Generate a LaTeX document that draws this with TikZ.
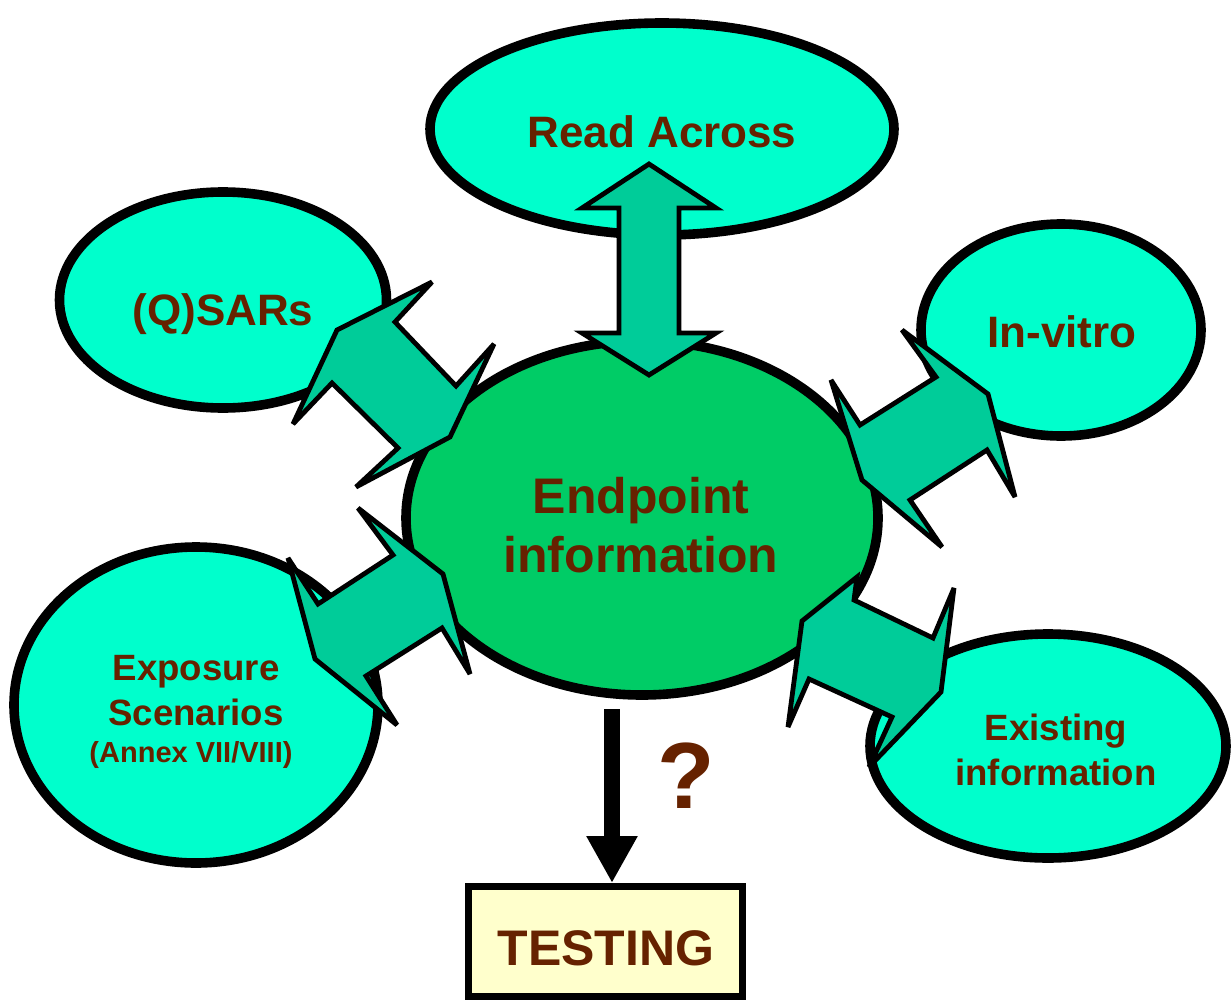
\documentclass[tikz,border=0pt]{standalone}
\usepackage{fontspec}
\setmainfont{Liberation Sans}
\usetikzlibrary{shapes.geometric,arrows.meta}
\definecolor{aqua}{HTML}{00FFCC}
\definecolor{midgreen}{HTML}{00CC66}
\definecolor{arrowteal}{HTML}{00CC99}
\definecolor{txtbrown}{HTML}{662200}
\definecolor{boxyellow}{HTML}{FFFFCC}
\begin{document}
\begin{tikzpicture}[x=0.5pt,y=-0.5pt,
  blob/.style={ellipse, draw=black, line width=4.8pt, fill=aqua, inner sep=0pt},
  fatarrow/.style={draw=black, line width=2.4pt, fill=arrowteal, line join=miter, miter limit=5},
  lbl/.style={text=txtbrown, anchor=base, inner sep=0pt},
  fs/.style={font=\bfseries\fontsize{#1}{#1}\selectfont}]
\useasboundingbox (0,0) rectangle (1231,1001);
% ellipses
\node[blob, minimum width=232pt, minimum height=106pt] (readacross) at (662,129) {};
\node[blob, minimum width=163.5pt, minimum height=108pt] (qsar) at (223,300) {};
\node[blob, minimum width=140pt, minimum height=106pt] (invitro) at (1061,330) {};
\node[blob, minimum width=182pt, minimum height=158pt] (exposure) at (196,705) {};
\node[blob, minimum width=178pt, minimum height=112pt] (existing) at (1048,746) {};
\node[blob, fill=midgreen, minimum width=236pt, minimum height=177pt] (endpoint) at (642,518) {};
% fat double arrows
\draw[fatarrow] (649,164) -- (716,208) -- (679,208) -- (679,333) -- (716,333) -- (649,375)
  -- (582,333) -- (619,333) -- (619,208) -- (582,208) -- cycle;
\draw[fatarrow] (432,282) -- (395,322) -- (456,386) -- (494,344) -- (450,437) -- (356,487)
  -- (398,448) -- (332,383) -- (293,424) -- (337,330) -- cycle;
\draw[fatarrow] (902,330) -- (936,377) -- (860,425) -- (831,380) -- (862,480) -- (942,547)
  -- (910,500) -- (987,450) -- (1015,497) -- (988,394) -- cycle;
\draw[fatarrow] (358,508) -- (393,555) -- (318,604) -- (288,558) -- (315,659) -- (397,725)
  -- (366,676) -- (442,628) -- (470,674) -- (443,574) -- cycle;
\draw[fatarrow] (954,588) -- (933,638) -- (854,600) -- (857,577) -- (802,621) -- (788,727)
  -- (809,679) -- (892,717) -- (869,767) -- (941,692) -- cycle;
% connector to testing
\node[draw=black, line width=3.5pt, fill=boxyellow, minimum width=137pt, minimum height=55pt, inner sep=0pt] (testing) at (605.5,941.5) {};
\coordinate (qstart) at (612,709);
\draw[line width=8pt, -{Triangle[length=23.5pt,width=24pt]}] (qstart) -- (qstart |- testing.north);
% labels
\node[lbl, fs=22] (t-readacross) at (662,147) {Read Across};
\node[lbl, fs=22] (t-qsar) at (223,325) {(Q)SARs};
\node[lbl, fs=22] (t-invitro) at (1062,347) {In-vitro};
\node[lbl, fs=25] (t-endpoint1) at (641,513) {Endpoint};
\node[lbl, fs=25] (t-endpoint2) at (641,572) {information};
\node[lbl, fs=18.3] (t-existing1) at (1056,740) {Existing};
\node[lbl, fs=18.3] (t-existing2) at (1056,785) {information};
\node[lbl, fs=18.3] (t-exposure1) at (196,680) {Exposure};
\node[lbl, fs=18.3] (t-exposure2) at (196,725) {Scenarios};
\node[lbl, fs=14.5] (t-exposure3) at (191,762) {(Annex VII/VIII)};
\node[lbl, fs=47] (t-question) at (686,808) {?};
\node[lbl, fs=25] (t-testing) at (606,965) {TESTING};
\end{tikzpicture}
\end{document}
